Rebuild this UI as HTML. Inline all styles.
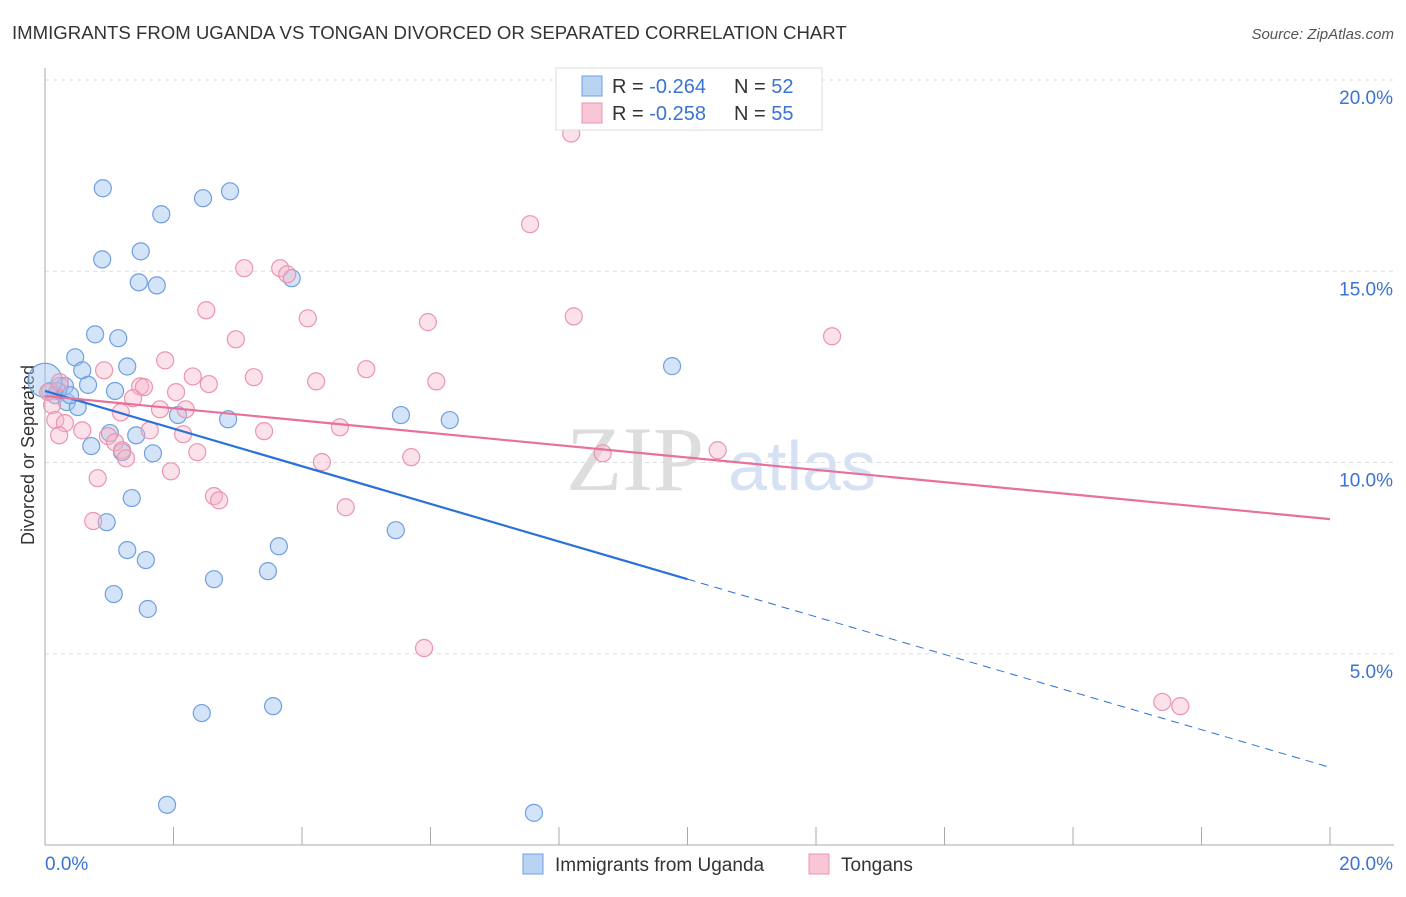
<!DOCTYPE html>
<html><head><meta charset="utf-8"><style>
body{margin:0;background:#fff;font-family:"Liberation Sans",sans-serif;}
svg text{font-family:"Liberation Sans",sans-serif;}
</style></head><body>
<svg id="chart" width="1406" height="892">
<text x="12" y="39" font-size="18.6" fill="#333">IMMIGRANTS FROM UGANDA VS TONGAN DIVORCED OR SEPARATED CORRELATION CHART</text>
<text x="1394" y="39" font-size="15" fill="#555" font-style="italic" text-anchor="end">Source: ZipAtlas.com</text>
<g id="grid"></g>
<text x="635" y="490" font-size="92" fill="#ddd" text-anchor="middle" style="font-family:'Liberation Serif',serif">ZIP</text>
<text x="802" y="490" font-size="70" fill="#d6e2f3" text-anchor="middle">atlas</text>
<text transform="translate(34,455) rotate(-90)" font-size="18" fill="#333" text-anchor="middle">Divorced or Separated</text>
<g id="marks"></g>
<g>
<rect x="556" y="68" width="266" height="62" fill="#fff" stroke="#ddd"/>
<rect x="582" y="76" width="20" height="20" fill="#b9d3f3" stroke="#6f9fe0"/>
<rect x="582" y="103" width="20" height="20" fill="#f9c6d5" stroke="#ec94ae"/>
<text x="612" y="93" font-size="20" fill="#333">R = <tspan fill="#3a73d1">-0.264</tspan></text>
<text x="734" y="93" font-size="20" fill="#333">N = <tspan fill="#3a73d1">52</tspan></text>
<text x="612" y="120" font-size="20" fill="#333">R = <tspan fill="#3a73d1">-0.258</tspan></text>
<text x="734" y="120" font-size="20" fill="#333">N = <tspan fill="#3a73d1">55</tspan></text>
</g>
<g>
<rect x="523" y="854" width="20" height="20" fill="#b9d3f3" stroke="#6f9fe0"/>
<text x="555" y="871" font-size="19" fill="#333">Immigrants from Uganda</text>
<rect x="809" y="854" width="20" height="20" fill="#f9c6d5" stroke="#ec94ae"/>
<text x="841" y="871" font-size="19" fill="#333">Tongans</text>
</g>
</svg>
<script>
const yTicks=[5,10,15,20];
const yTickLabels=["5.0%","10.0%","15.0%","20.0%"];
const xTickLabels=["0.0%","20.0%"];
const ugandaX=[0.90,2.46,2.88,1.81,1.49,0.89,1.46,1.74,3.84,0.78,1.14,0.47,0.58,1.28,9.76,0.23,0.67,1.09,0.08,0.16,0.34,0.51,2.07,2.85,5.54,6.30,1.01,1.42,0.72,1.68,1.20,1.35,0.96,5.46,3.64,1.28,1.57,3.47,2.63,1.07,1.60,2.44,3.55,1.90,7.61,0.31,0.20,0.39,0.0];
const ugandaY=[17.17,16.91,17.09,16.49,15.52,15.31,14.71,14.63,14.82,13.35,13.25,12.75,12.41,12.51,12.52,12.00,12.03,11.87,11.87,11.76,11.58,11.45,11.24,11.13,11.24,11.11,10.77,10.71,10.43,10.24,10.27,9.07,8.44,8.23,7.81,7.71,7.45,7.16,6.95,6.56,6.17,3.45,3.63,1.05,0.84,12.00,11.87,11.76,12.15];
const tonganX=[8.19,7.55,3.10,3.66,3.77,2.51,4.09,5.96,8.23,12.25,2.97,1.87,0.92,2.30,3.25,4.22,5.00,6.09,1.48,2.55,1.54,2.04,1.37,0.05,0.11,1.79,2.19,1.18,0.16,0.31,0.58,4.59,3.41,0.98,2.15,1.09,1.63,0.22,1.20,2.37,1.26,4.31,5.70,8.68,10.47,1.96,0.82,2.63,2.71,0.75,4.68,5.90,17.39,17.67,0.23];
const tonganY=[18.60,16.23,15.08,15.08,14.92,13.98,13.77,13.67,13.82,13.30,13.22,12.67,12.41,12.25,12.23,12.12,12.44,12.12,11.99,12.05,11.97,11.84,11.68,11.84,11.50,11.39,11.39,11.31,11.11,11.03,10.84,10.92,10.82,10.69,10.74,10.53,10.84,10.71,10.32,10.27,10.11,10.01,10.14,10.24,10.32,9.77,9.59,9.12,9.01,8.47,8.83,5.15,3.74,3.63,12.10];
const ugandaTrend=[11.87,6.95,2.03];
const tonganTrend=[11.74,8.52];

const NS="http://www.w3.org/2000/svg";
const X0=45,X1=1330,Y0=845,Y20=80;
function sx(v){return X0+v*(X1-X0)/20;}
function sy(v){return Y0-v*(Y0-Y20)/20;}
function mk(tag,attrs,parent){const e=document.createElementNS(NS,tag);for(const k in attrs)e.setAttribute(k,attrs[k]);parent.appendChild(e);return e;}
const grid=document.getElementById('grid'),marks=document.getElementById('marks');
yTicks.forEach((t,i)=>{
  const l=mk('line',{x1:X0,x2:1394,y1:sy(t),y2:sy(t),stroke:'#ddd','stroke-dasharray':'4,4'},grid);
  
  
  const tx=mk('text',{x:1393,y:sy(t)+24,'font-size':19,fill:'#3a73d1','text-anchor':'end'},grid);
  tx.textContent=yTickLabels[i];
  
  
});
const ax=mk('line',{x1:X0,x2:X0,y1:68,y2:Y0,stroke:'#aaa'},grid);


const bx=mk('line',{x1:X0,x2:1394,y1:Y0,y2:Y0,stroke:'#aaa'},grid);


for(let i=1;i<=10;i++){
  const t=mk('line',{x1:sx(i*2),x2:sx(i*2),y1:Y0-18,y2:Y0,stroke:'#aaa'},grid);
  
  
}
[[0,'start',X0],[1,'end',1393]].forEach(([i,a,x])=>{
  const t=mk('text',{x:x,y:870,'font-size':19,fill:'#3a73d1','text-anchor':a},grid);
  t.textContent=xTickLabels[i];
  
  
});
ugandaX.forEach((v,i)=>{
  const c=mk('circle',{cx:sx(v),cy:sy(ugandaY[i]),r:i===ugandaX.length-1?17:8.5,fill:'rgba(160,195,240,0.45)',stroke:'#6f9fe0','stroke-width':1.2},marks);
  
  
});
tonganX.forEach((v,i)=>{
  const c=mk('circle',{cx:sx(v),cy:sy(tonganY[i]),r:8.5,fill:'rgba(246,180,200,0.4)',stroke:'#ec94ae','stroke-width':1.2},marks);
  
  
});
const l1=mk('line',{x1:sx(0),y1:sy(ugandaTrend[0]),x2:sx(10),y2:sy(ugandaTrend[1]),stroke:'#2a72d8','stroke-width':2.2},marks);


const l2=mk('line',{x1:sx(10),y1:sy(ugandaTrend[1]),x2:sx(20),y2:sy(ugandaTrend[2]),stroke:'#2a72d8','stroke-width':1,'stroke-dasharray':'8,6'},marks);


const l3=mk('line',{x1:sx(0),y1:sy(tonganTrend[0]),x2:sx(20),y2:sy(tonganTrend[1]),stroke:'#e8709a','stroke-width':2.2},marks);


</script>
</body></html>
